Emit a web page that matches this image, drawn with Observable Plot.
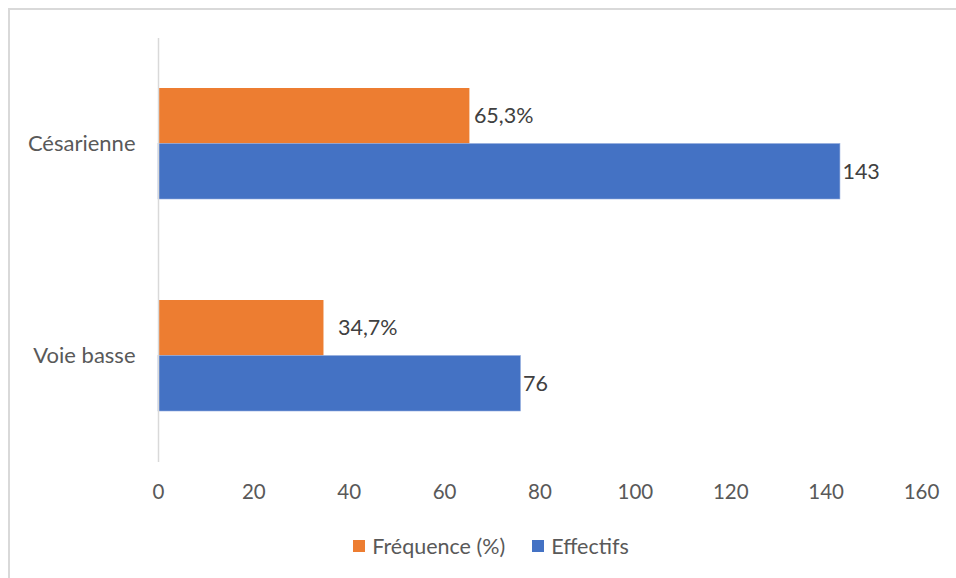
<!DOCTYPE html>
<html lang="fr">
<head>
<meta charset="utf-8">
<script src="https://cdn.jsdelivr.net/npm/d3@7"></script>
<script src="https://cdn.jsdelivr.net/npm/@observablehq/plot@0.6"></script>
<style>
  html, body { margin: 0; padding: 0; background: #fff; }
  #wrap { position: relative; width: 956px; height: 578px; overflow: hidden; font-family: Lato, "Open Sans", sans-serif; }
  .edge { position: absolute; background: #d9d9d9; }
  #chart { position: absolute; left: 0; top: 0; }
  #legend { position: absolute; top: 533px; left: 0; width: 982px; display: flex; justify-content: center; gap: 27px; font-size: 21.5px; color: #595959; }
  #legend span { display: inline-flex; align-items: center; }
  #legend i { display: inline-block; width: 12px; height: 12px; margin-right: 7px; }
</style>
</head>
<body>
<div id="wrap">
  <div class="edge" style="left:8px;top:8px;width:948px;height:2px"></div>
  <div class="edge" style="left:8px;top:8px;width:2px;height:570px"></div>
  <div id="chart"></div>
  <div id="legend"></div>
</div>
<script>
// Mode d'accouchement : effectifs et fréquences
const categories = ["Césarienne", "Voie basse"];
const frequence = [65.3, 34.7];
const effectifs = [143, 76];
const frequenceLabels = ["65,3%", "34,7%"];
const xTicks = [0, 20, 40, 60, 80, 100, 120, 140, 160];
const seriesNames = ["Fréquence (%)", "Effectifs"];
const seriesColors = ["#ED7D31", "#4472C4"];

const rows = categories.map((c, i) => ({
  categorie: c,
  frequence: frequence[i],
  effectifs: effectifs[i],
  labelF: frequenceLabels[i],
  labelE: String(effectifs[i])
}));

const W = 956, H = 520, mTop = 38, mBottom = 58;
const step = (H - mTop - mBottom) / categories.length;
const pInner = 0.476, pOuter = pInner / 2;
const bw = step * (1 - pInner);
const half = bw / 2;

const labelStyle = {fontSize: 21.5, fill: "#404040", textAnchor: "start", fontFamily: "Lato, sans-serif"};

const chart = Plot.plot({
  width: W,
  height: H,
  marginTop: mTop,
  marginBottom: mBottom,
  marginLeft: 158,
  marginRight: 35,
  style: {fontFamily: "Lato, sans-serif", fontSize: "20px", color: "#595959", background: "transparent"},
  x: {domain: [0, 160]},
  y: {domain: categories, paddingInner: pInner, paddingOuter: pOuter},
  marks: [
    Plot.barX(rows, {y: "categorie", x: "frequence", fill: seriesColors[0], insetBottom: half}),
    Plot.barX(rows, {y: "categorie", x: "effectifs", fill: seriesColors[1], insetTop: half, stroke: "#8fa9dc", strokeWidth: 0.6}),
    Plot.ruleX([0], {stroke: "#d9d9d9", strokeWidth: 1.5}),
    Plot.text(rows.filter(d => d.categorie === "Césarienne"), {y: "categorie", x: "frequence", text: "labelF", dx: 4, dy: -half / 2, ...labelStyle}),
    Plot.text(rows.filter(d => d.categorie === "Voie basse"), {y: "categorie", x: "frequence", text: "labelF", dx: 14, dy: -half / 2, ...labelStyle}),
    Plot.text(rows, {y: "categorie", x: "effectifs", text: "labelE", dx: 2, dy: half / 2, ...labelStyle}),
    Plot.axisX({ticks: xTicks, tickSize: 0, tickPadding: 22, label: null, fontSize: 20.5}),
    Plot.axisY({tickSize: 0, tickPadding: 23, label: null, fontSize: 22})
  ]
});
document.getElementById("chart").append(chart);

const legend = document.getElementById("legend");
seriesNames.forEach((name, i) => {
  const s = document.createElement("span");
  const sw = document.createElement("i");
  sw.style.background = seriesColors[i];
  s.append(sw, document.createTextNode(name));
  legend.append(s);
});
</script>
</body>
</html>
